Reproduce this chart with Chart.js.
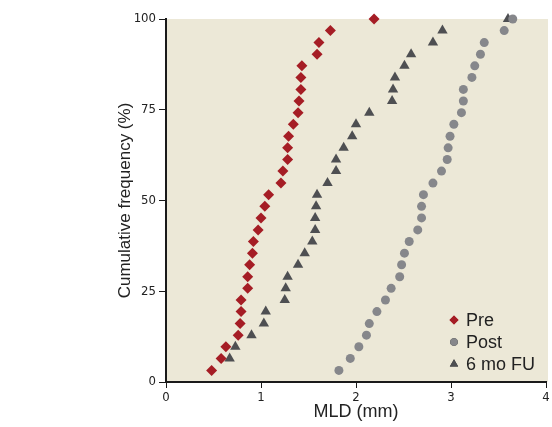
<!DOCTYPE html>
<html>
<head>
<meta charset="utf-8">
<script src="https://cdn.jsdelivr.net/npm/chart.js"></script>
<style>
  html, body { margin: 0; padding: 0; background: #fff; }
  #wrap { width: 552px; height: 427px; }
</style>
</head>
<body>
<div id="wrap"><canvas id="mldChart" width="552" height="427"></canvas></div>
<script>
// cumulative frequency (%) levels
const cumFreq = [3.2, 6.5, 9.7, 12.9, 16.1, 19.4, 22.6, 25.8, 29.0, 32.3, 35.5, 38.7, 41.9, 45.2, 48.4, 51.6,
  54.8, 58.1, 61.3, 64.5, 67.7, 71.0, 74.2, 77.4, 80.6, 83.9, 87.1, 90.3, 93.5, 96.8, 100];

const preMLD = [0.48, 0.58, 0.63, 0.76, 0.78, 0.79, 0.79, 0.86, 0.86, 0.88, 0.91, 0.92, 0.97, 1.00, 1.04, 1.08,
  1.21, 1.23, 1.28, 1.28, 1.29, 1.34, 1.39, 1.40, 1.42, 1.42, 1.43, 1.59, 1.61, 1.73, 2.19];
const postMLD = [1.82, 1.94, 2.03, 2.11, 2.14, 2.22, 2.31, 2.37, 2.46, 2.48, 2.51, 2.56, 2.65, 2.69, 2.69, 2.71,
  2.81, 2.90, 2.96, 2.97, 2.99, 3.03, 3.11, 3.13, 3.13, 3.22, 3.25, 3.31, 3.35, 3.56, 3.65];
// 6 month follow-up has one fewer patient, starts at the second level
const fuMLD = [0.67, 0.73, 0.90, 1.03, 1.05, 1.25, 1.26, 1.28, 1.39, 1.46, 1.54, 1.57, 1.57, 1.58, 1.59,
  1.70, 1.79, 1.79, 1.87, 1.96, 2.00, 2.14, 2.38, 2.39, 2.41, 2.51, 2.58, 2.81, 2.91, 3.60];
const fuFreq = cumFreq.slice(1);

const seriesNames = ["Pre", "Post", "6 mo FU"];
const xTicks = [0, 1, 2, 3, 4];
const yTicks = [0, 25, 50, 75, 100];

const narrow = "'Liberation Sans Narrow', 'DejaVu Sans Condensed', sans-serif";
const sans = "'Liberation Sans', Arial, sans-serif";

function toPoints(xs, ys) {
  return xs.map((x, i) => ({ x: x, y: ys[i] }));
}

const bgPlugin = {
  id: "plotBg",
  beforeDraw(chart) {
    const a = chart.chartArea;
    const ctx = chart.ctx;
    ctx.save();
    ctx.fillStyle = "#ece8d7";
    ctx.fillRect(a.left, a.top, a.right - a.left + 2, a.bottom - a.top);
    ctx.restore();
  }
};

const legendPlugin = {
  id: "insideLegend",
  afterDatasetsDraw(chart) {
    const a = chart.chartArea;
    const ctx = chart.ctx;
    const rows = [a.bottom - 62, a.bottom - 40, a.bottom - 18];
    ctx.save();
    chart.data.datasets.forEach((ds, i) => {
      const y = rows[i];
      const mx = a.right - 92;
      Chart.helpers.drawPoint(ctx, {
        pointStyle: ds.pointStyle,
        radius: ds.legendRadius,
        rotation: 0,
        borderWidth: 0
      }, mx, y);
      ctx.fillStyle = ds.backgroundColor;
      ctx.fill();
      ctx.fillStyle = "#222";
      ctx.font = "18px " + sans;
      ctx.textAlign = "left";
      ctx.textBaseline = "middle";
      ctx.fillText(ds.label, a.right - 80, y + 1);
    });
    ctx.restore();
  }
};

new Chart(document.getElementById("mldChart"), {
  type: "scatter",
  data: {
    datasets: [
      {
        label: seriesNames[0],
        data: toPoints(preMLD, cumFreq),
        pointStyle: "rectRot",
        pointRadius: 5.5,
        legendRadius: 4.5,
        backgroundColor: "#a51d25",
        borderWidth: 0,
        clip: false
      },
      {
        label: seriesNames[1],
        data: toPoints(postMLD, cumFreq),
        pointStyle: "circle",
        pointRadius: 4.5,
        legendRadius: 3.8,
        backgroundColor: "#86878b",
        borderWidth: 0,
        clip: false
      },
      {
        label: seriesNames[2],
        data: toPoints(fuMLD, fuFreq),
        pointStyle: "triangle",
        pointRadius: 6,
        legendRadius: 4.8,
        backgroundColor: "#4e4f52",
        borderWidth: 0,
        clip: false
      }
    ]
  },
  options: {
    responsive: false,
    animation: false,
    events: [],
    layout: { padding: { left: 115, top: 19, right: 4, bottom: 0 } },
    plugins: {
      legend: { display: false },
      tooltip: { enabled: false }
    },
    scales: {
      x: {
        type: "linear",
        min: 0,
        max: 4,
        afterBuildTicks(scale) { scale.ticks = xTicks.map(v => ({ value: v })); },
        afterFit(scale) { scale.height = 45; },
        border: { display: true, color: "#1a1a1a", width: 2 },
        grid: { drawOnChartArea: false, drawTicks: true, tickLength: 6, tickColor: "#1a1a1a", tickWidth: 1 },
        ticks: { padding: 2, color: "#222", font: { family: narrow, size: 13 }, maxRotation: 0 },
        title: {
          display: true,
          text: "MLD (mm)",
          color: "#222",
          font: { family: sans, size: 18 },
          padding: { top: 0, bottom: 4 }
        }
      },
      y: {
        type: "linear",
        min: 0,
        max: 100,
        afterBuildTicks(scale) { scale.ticks = yTicks.map(v => ({ value: v })); },
        afterFit(scale) { scale.width = 51; },
        border: { display: true, color: "#1a1a1a", width: 2 },
        grid: { drawOnChartArea: false, drawTicks: true, tickLength: 7, tickColor: "#1a1a1a", tickWidth: 1 },
        ticks: { padding: 3, color: "#222", font: { family: narrow, size: 13 } },
        title: {
          display: true,
          text: "Cumulative frequency (%)",
          color: "#222",
          font: { family: sans, size: 17 },
          padding: { top: 0, bottom: 0 }
        }
      }
    }
  },
  plugins: [bgPlugin, legendPlugin]
});
</script>
</body>
</html>
